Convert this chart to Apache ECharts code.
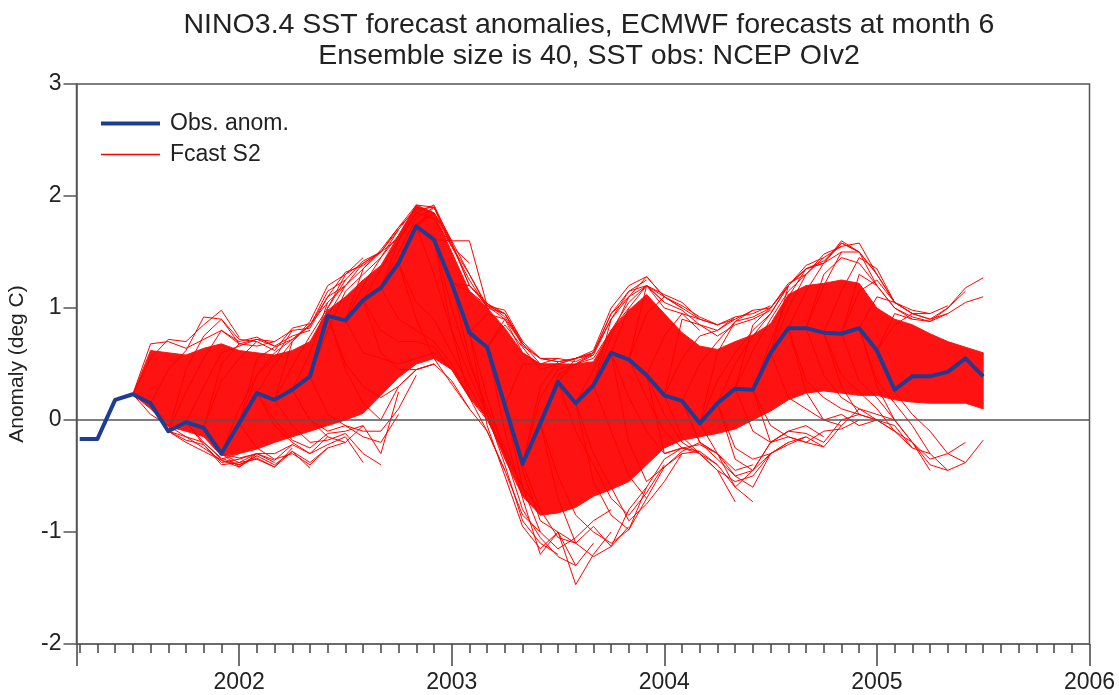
<!DOCTYPE html>
<html><head><meta charset="utf-8">
<script src="https://cdn.jsdelivr.net/npm/echarts@6/dist/echarts.min.js"></script>
<style>html,body{margin:0;padding:0;background:#fff}#c{width:1119px;height:695px}</style>
</head><body><div id="c"></div>
<script>
// ---------------- DATA ----------------
const FIRST_YEAR = 2001, FIRST_MONTH = 4;          // observations start Apr 2001
// Observed NINO3.4 anomaly (deg C), monthly Apr 2001 .. Jul 2005
const obs = [-0.17,-0.17,0.18,0.23,0.15,-0.10,-0.02,-0.07,-0.30,
  -0.03,0.24,0.18,0.27,0.39,0.93,0.89,1.07,1.18,1.40,1.73,1.61,
  1.22,0.78,0.65,0.13,-0.39,-0.03,0.34,0.15,0.31,0.60,0.54,0.40,
  0.22,0.17,-0.03,0.15,0.28,0.27,0.60,0.82,0.82,0.78,0.77,0.82,
  0.62,0.27,0.39,0.39,0.43,0.55,0.39];
// Dense part of the forecast ensemble cloud, Jul 2001 .. Jul 2005 (upper / lower edge)
const BAND_START = 3;
const coreHi = [0.23,0.62,0.60,0.58,0.64,0.68,0.62,0.60,0.58,0.62,0.70,0.98,1.10,1.25,1.38,1.65,
  1.92,1.85,1.50,1.15,1.00,0.82,0.60,0.50,0.50,0.50,0.52,0.80,0.98,1.12,0.95,0.78,0.66,0.63,0.70,
  0.76,0.86,1.12,1.20,1.22,1.25,1.22,1.00,0.90,0.85,0.77,0.70,0.65,0.60];
const coreLo = [0.23,0.10,-0.06,-0.10,-0.15,-0.32,-0.30,-0.26,-0.20,-0.15,-0.10,-0.05,0.00,0.06,0.22,0.38,
  0.50,0.55,0.45,0.20,0.02,-0.35,-0.68,-0.85,-0.83,-0.78,-0.68,-0.62,-0.55,-0.40,-0.25,-0.18,-0.15,-0.12,-0.08,
  0.00,0.08,0.18,0.24,0.26,0.24,0.22,0.22,0.18,0.16,0.15,0.15,0.15,0.10];
// Ensemble members per start month (Jul 2001 .. Jan 2005), lead months 1..6
const FC_START = 3;
const fcHi = [
 [0.55,0.72,0.70,0.85,0.98,0.74],[0.45,0.62,0.92,0.90,0.72,0.70],[0.25,0.55,0.80,0.70,0.74,0.66],
 [0.30,0.60,0.66,0.72,0.70,0.80],[0.35,0.55,0.70,0.62,0.82,0.86],[0.10,0.40,0.60,0.72,0.85,1.05],
 [0.40,0.55,0.80,0.82,1.10,1.20],[0.50,0.70,0.88,1.20,1.30,1.45],[0.48,0.75,1.00,1.25,1.42,1.50],
 [0.60,1.05,1.20,1.35,1.50,1.70],[0.80,1.15,1.30,1.45,1.70,1.90],[1.20,1.40,1.50,1.72,1.92,1.90],
 [1.20,1.45,1.65,1.90,1.85,1.60],[1.35,1.60,1.85,1.80,1.55,1.40],[1.50,1.80,1.90,1.60,1.30,1.00],
 [1.75,1.85,1.55,1.30,1.02,0.90],[1.90,1.55,1.25,1.00,0.95,0.70],[1.60,1.60,1.02,0.95,0.68,0.50],
 [1.15,1.02,0.98,0.70,0.55,0.55],[0.95,0.90,0.60,0.50,0.50,0.55],[0.85,0.65,0.45,0.50,0.55,0.60],
 [0.50,0.50,0.55,0.52,0.60,0.90],[0.20,0.45,0.50,0.55,0.80,1.00],[0.40,0.50,0.60,0.95,1.15,1.25],
 [0.55,0.62,1.00,1.20,1.28,1.10],[0.45,0.80,1.05,1.20,1.10,1.00],[0.75,1.10,1.28,1.10,1.00,0.90],
 [1.00,1.20,1.12,1.05,0.90,0.85],[0.95,1.10,1.02,0.92,0.85,0.92],[0.75,0.95,0.90,0.85,0.90,0.98],
 [0.55,0.75,0.80,0.92,0.95,1.02],[0.50,0.70,0.88,0.98,1.00,1.20],[0.35,0.60,0.80,0.95,1.20,1.35],
 [0.50,0.75,0.95,1.20,1.38,1.45],[0.62,0.90,1.15,1.30,1.45,1.55],[0.70,1.10,1.35,1.40,1.60,1.50],
 [1.00,1.30,1.48,1.55,1.58,1.30],[1.15,1.40,1.58,1.50,1.30,1.05],[1.20,1.50,1.50,1.30,1.05,0.95],
 [1.15,1.45,1.35,1.05,0.98,0.95],[1.15,1.25,1.05,0.95,0.95,1.02],[1.10,1.05,0.95,0.90,1.00,1.15],
 [0.95,0.90,0.88,1.00,1.18,1.27]];
const fcLo = [
 [0.05,-0.05,-0.15,-0.20,-0.35,-0.30],[-0.10,-0.18,-0.22,-0.40,-0.38,-0.30],[-0.20,-0.28,-0.36,-0.42,-0.30,-0.38],
 [-0.20,-0.34,-0.40,-0.34,-0.42,-0.25],[-0.30,-0.42,-0.32,-0.40,-0.28,-0.43],[-0.38,-0.35,-0.42,-0.28,-0.38,-0.25],
 [-0.25,-0.35,-0.30,-0.40,-0.25,-0.20],[-0.05,-0.20,-0.30,-0.22,-0.15,-0.38],[-0.05,-0.20,-0.18,-0.12,-0.30,-0.40],
 [0.00,-0.10,-0.05,-0.15,-0.20,0.05],[0.05,-0.05,-0.10,-0.10,0.10,0.40],[0.50,0.30,0.20,0.30,0.45,0.50],
 [0.60,0.55,0.50,0.55,0.60,0.45],[0.80,0.70,0.70,0.65,0.45,0.20],[0.90,0.80,0.70,0.50,0.20,0.00],
 [1.05,0.90,0.60,0.30,0.00,-0.30],[1.30,0.80,0.40,0.05,-0.30,-0.60],[1.00,0.50,0.10,-0.25,-0.60,-0.80],
 [0.55,0.05,-0.40,-0.90,-1.10,-1.20],[0.20,-0.30,-0.80,-1.05,-1.22,-1.30],[-0.10,-0.70,-1.20,-1.00,-1.30,-1.10],
 [-0.45,-0.90,-1.00,-1.47,-1.20,-1.00],[-0.80,-1.05,-1.10,-1.22,-1.13,-0.95],[-0.50,-0.85,-1.00,-1.10,-0.98,-0.70],
 [-0.10,-0.40,-0.70,-0.85,-0.65,-0.40],[-0.30,-0.60,-0.90,-0.75,-0.55,-0.30],[-0.10,-0.50,-0.70,-0.42,-0.30,-0.28],
 [0.20,-0.10,-0.30,-0.25,-0.28,-0.40],[0.20,-0.10,-0.25,-0.30,-0.45,-0.73],[0.05,-0.20,-0.30,-0.40,-0.60,-0.73],
 [-0.15,-0.30,-0.45,-0.55,-0.50,-0.30],[-0.20,-0.35,-0.50,-0.60,-0.30,-0.20],[-0.30,-0.50,-0.45,-0.30,-0.20,-0.15],
 [-0.25,-0.35,-0.30,-0.22,-0.15,-0.24],[-0.10,-0.20,-0.15,-0.20,-0.24,-0.05],[-0.05,-0.15,-0.20,-0.10,-0.08,0.00],
 [0.20,0.10,0.00,0.05,-0.05,0.00],[0.35,0.20,0.10,0.05,0.00,-0.10],[0.40,0.20,0.10,0.00,-0.10,-0.25],
 [0.40,0.25,0.10,-0.10,-0.20,-0.45],[0.35,0.20,0.00,-0.20,-0.40,-0.45],[0.35,0.15,-0.05,-0.30,-0.45,-0.38],
 [0.25,0.05,-0.10,-0.30,-0.38,-0.18]];
const fcMid = [
 [0.68,0.70,0.64,0.72,0.80,0.68],[-0.10,-0.15,-0.25,-0.36,-0.40,-0.32],[0.45,0.75,0.90,0.68,0.66,0.70],
 [-0.22,-0.38,-0.35,-0.30,-0.36,-0.22],[0.50,0.68,0.72,0.66,0.75,0.80],[-0.34,-0.30,-0.30,-0.22,-0.30,-0.15],
 [0.55,0.65,0.72,0.84,1.15,1.25],[0.00,-0.18,-0.25,-0.12,-0.10,-0.05],[0.70,0.85,1.10,1.32,1.38,1.50],
 [0.00,-0.15,-0.20,-0.05,-0.30,0.25],[1.00,1.30,1.40,1.50,1.62,1.85],[0.45,0.15,0.00,0.30,0.45,0.50],
 [1.35,1.52,1.72,1.88,1.90,1.55],[0.60,0.45,0.45,0.50,0.35,0.10],[1.60,1.85,1.92,1.58,1.20,1.02],
 [0.90,0.55,0.32,0.10,-0.10,-0.45],[1.85,1.58,1.20,1.04,0.92,0.68],[0.80,0.20,-0.10,-0.45,-0.85,-1.00],
 [1.20,1.04,0.95,0.66,0.55,0.52],[-0.05,-0.50,-0.95,-1.15,-1.00,-1.10],[0.90,0.68,0.55,0.52,0.55,0.58],
 [-0.60,-1.00,-1.15,-1.05,-0.90,-0.80],[0.30,0.52,0.55,0.60,0.95,1.10],[-0.70,-1.10,-0.95,-1.13,-0.80,-0.60],
 [0.50,0.58,0.90,1.10,1.20,1.05],[-0.55,-0.85,-0.98,-0.60,-0.35,-0.25],[0.90,1.15,1.20,1.00,0.95,0.80],
 [-0.20,-0.55,-0.42,-0.28,-0.20,-0.30],[1.20,1.05,0.98,0.85,0.80,0.90],[-0.30,-0.25,-0.22,-0.30,-0.45,-0.40],
 [0.90,0.85,0.75,0.85,0.90,0.98],[-0.20,-0.30,-0.60,-0.45,-0.20,-0.10],[0.60,0.88,0.92,1.00,1.22,1.30],
 [-0.35,-0.45,-0.20,-0.10,-0.05,-0.15],[0.85,1.00,1.20,1.35,1.40,1.50],[-0.20,-0.10,-0.12,-0.20,0.00,0.05],
 [1.20,1.35,1.42,1.58,1.50,1.20],[0.25,0.00,-0.05,0.10,0.05,0.00],[1.30,1.45,1.40,1.20,1.00,0.90],
 [0.30,0.05,0.00,-0.05,-0.25,-0.30],[1.30,1.20,1.00,0.92,0.88,0.95],[0.30,0.00,-0.20,-0.35,-0.30,-0.20],
 [0.85,0.95,0.90,0.95,1.05,1.10]];
const yearLabels = [2002, 2003, 2004, 2005, 2006];
const X_MIN = 2001.235, X_MAX = 2006;

// ---------------- CHART ----------------
const FONT = '"Liberation Sans", Arial, Helvetica, sans-serif';
const mx = i => FIRST_YEAR + (FIRST_MONTH - 1 + i) / 12;
const monthTicks = [];
for (let y = 2001; y <= 2005; y++) for (let m = 2; m <= 12; m++) {
  const v = y + (m - 1) / 12; if (v > X_MIN && v < X_MAX) monthTicks.push(v);
}
const RED = '#ff0000', BLUE = '#1f3c94';
const series = [];
series.push({
  type: 'custom', name: 'band', silent: true, z: 1, data: [[2003, 0]],
  renderItem: (params, api) => {
    const pts = [];
    for (let k = 0; k < coreHi.length; k++) pts.push(api.coord([mx(BAND_START + k), coreHi[k]]));
    for (let k = coreLo.length - 1; k >= 0; k--) pts.push(api.coord([mx(BAND_START + k), coreLo[k]]));
    return { type: 'polygon', shape: { points: pts }, style: { fill: '#ff1212', stroke: '#ff1212', lineWidth: 1 } };
  }
});
for (let j = 0; j < fcHi.length; j++) {
  const s = FC_START + j;
  [fcHi[j], fcMid[j], fcLo[j]].forEach(mem => {
    const d = [[mx(s), obs[s]]];
    mem.forEach((v, k) => d.push([mx(s + k + 1), v]));
    series.push({ type: 'line', name: 'Fcast S2', data: d, showSymbol: false, symbol: 'none', silent: true,
      lineStyle: { color: RED, width: 1 }, itemStyle: { color: RED }, z: 2 });
  });
}
series.push({ type: 'line', name: 'zero', data: [[2002, 0]], showSymbol: false, symbol: 'none', lineStyle: { opacity: 0 }, z: 3, silent: true,
  markLine: { symbol: 'none', silent: true, label: { show: false }, lineStyle: { color: '#555', width: 1.5, type: 'solid' }, data: [{ yAxis: 0 }] } });
series.push({ type: 'line', name: 'Obs. anom.', data: obs.map((v, i) => [mx(i), v]), showSymbol: false, symbol: 'none',
  lineStyle: { color: BLUE, width: 4, join: 'round' }, itemStyle: { color: BLUE }, z: 5 });

const legText = { fontSize: 23, fontFamily: FONT, color: '#222', padding: [0, 0, 0, 5] };
const option = {
  animation: false,
  textStyle: { fontFamily: FONT },
  title: { text: 'NINO3.4 SST forecast anomalies, ECMWF forecasts at month 6\nEnsemble size is 40, SST obs: NCEP OIv2',
    left: 584, top: 5, textAlign: 'center',
    textStyle: { fontSize: 28.5, fontWeight: 'normal', fontFamily: FONT, color: '#222', lineHeight: 31 } },
  legend: [
    { data: ['Obs. anom.'], left: 96, top: 107, icon: 'rect', itemWidth: 59, itemHeight: 4, selectedMode: false, textStyle: legText },
    { data: ['Fcast S2'], left: 96, top: 138, icon: 'rect', itemWidth: 59, itemHeight: 1.5, selectedMode: false, textStyle: legText }
  ],
  grid: { left: 76.5, right: 29.5, top: 84, bottom: 51, containLabel: false, outerBoundsMode: 'none',
    show: true, borderColor: '#555', borderWidth: 1.5, backgroundColor: 'transparent' },
  xAxis: [
    { type: 'value', min: X_MIN, max: X_MAX, position: 'bottom', splitLine: { show: false },
      axisLine: { show: true, onZero: false, lineStyle: { color: '#666', width: 1.5 } },
      axisTick: { show: true, customValues: [X_MIN].concat(yearLabels), length: 22, lineStyle: { color: '#444', width: 1.5 } },
      axisLabel: { customValues: yearLabels, fontSize: 23, color: '#222', margin: 27, fontFamily: FONT, formatter: v => String(Math.round(v)) } },
    { type: 'value', min: X_MIN, max: X_MAX, position: 'bottom', splitLine: { show: false },
      axisLine: { show: false, onZero: false }, axisLabel: { show: false },
      axisTick: { show: true, customValues: monthTicks, length: 9, lineStyle: { color: '#444', width: 1.5 } } }
  ],
  yAxis: { type: 'value', min: -2, max: 3, interval: 1, splitLine: { show: false },
    axisLine: { show: true, onZero: false, lineStyle: { color: '#555', width: 1.5 } },
    axisTick: { show: true, length: 13, lineStyle: { color: '#555', width: 1.5 } },
    axisLabel: { fontSize: 23, color: '#222', margin: 15, fontFamily: FONT },
    name: 'Anomaly (deg C)', nameLocation: 'middle', nameGap: 49, nameRotate: 90,
    nameTextStyle: { fontSize: 21, color: '#222', fontFamily: FONT } },
  series: series
};
const chart = echarts.init(document.getElementById('c'));
chart.setOption(option);
</script></body></html>
